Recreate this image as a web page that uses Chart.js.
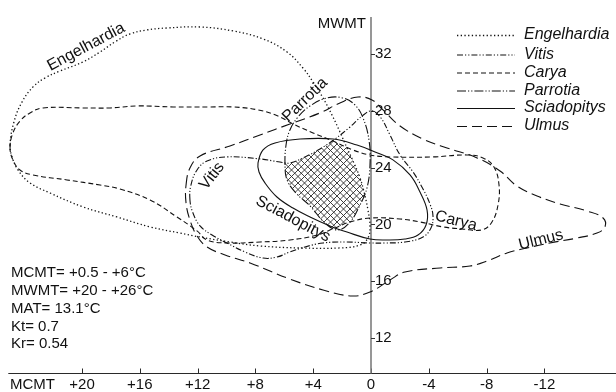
<!DOCTYPE html>
<html>
<head>
<meta charset="utf-8">
<script src="https://cdn.jsdelivr.net/npm/chart.js@4.4.0/dist/chart.umd.min.js"></script>
<style>
  html, body { margin: 0; padding: 0; background: #fff; }
  #wrap { width: 616px; height: 392px; }
</style>
</head>
<body>
<div id="wrap"><canvas id="chart" width="616" height="392"></canvas></div>
<script>
// climate envelopes, each point is [MCMT, MWMT] in deg C
const engelhardia = [
  [24.98, 25.59], [24.71, 27.21], [24.15, 28.62], [23.39, 29.68], [22.56, 30.31], [21.52, 30.80],
  [19.93, 31.44], [18.75, 32.14], [17.72, 32.85], [16.68, 33.41], [15.50, 33.69], [14.12, 33.83],
  [11.83, 33.90], [9.55, 33.62], [7.47, 33.06], [5.81, 32.14], [4.71, 31.01], [4.01, 30.03],
  [3.32, 28.90], [2.70, 27.70], [2.15, 26.51], [1.66, 25.38], [1.18, 24.32], [0.76, 23.27],
  [0.48, 22.28], [0.21, 21.01], [0.07, 19.89], [0.21, 19.04], [0.76, 18.55], [2.15, 18.34],
  [4.91, 18.34], [7.68, 18.48], [9.76, 18.76], [11.83, 19.11], [13.22, 19.39], [15.29, 19.82],
  [17.58, 20.52], [19.93, 21.23], [22.21, 22.21], [23.60, 22.92], [24.43, 23.83], [24.84, 24.75]
];
const vitis = [
  [12.53, 21.72], [12.46, 22.77], [12.04, 23.83], [11.35, 24.46], [9.97, 24.75], [7.68, 24.61],
  [6.30, 24.39], [5.61, 24.32], [4.57, 24.75], [3.53, 25.31], [2.49, 26.01], [1.45, 26.86],
  [0.62, 27.63], [-0.07, 27.99], [-0.69, 27.49], [-1.31, 26.30], [-2.01, 24.89], [-2.91, 23.69],
  [-3.60, 22.49], [-4.08, 21.44], [-4.29, 20.59], [-4.15, 19.75], [-3.60, 19.11], [-2.35, 18.76],
  [-0.97, 18.69], [0.07, 18.69], [1.80, 18.76], [3.32, 18.69], [4.57, 18.41], [5.61, 18.06],
  [6.51, 17.70], [7.47, 17.63], [8.72, 18.06], [9.97, 18.69], [11.00, 19.25], [11.83, 19.89],
  [12.32, 20.80]
];
const carya = [
  [24.98, 25.38], [24.78, 26.44], [24.29, 27.28], [23.60, 27.85], [22.70, 28.20], [19.93, 28.20],
  [18.06, 28.20], [16.19, 28.34], [13.70, 28.27], [11.14, 28.27], [9.55, 28.27], [7.82, 28.06],
  [6.44, 27.63], [5.40, 27.07], [4.01, 26.44], [2.63, 25.87], [1.25, 25.24], [0.07, 24.89],
  [-1.31, 24.75], [-4.29, 24.75], [-6.64, 24.89], [-7.75, 24.68], [-8.51, 24.04], [-8.86, 22.77],
  [-8.79, 21.37], [-8.37, 20.17], [-7.68, 19.61], [-6.30, 19.68], [-4.98, 19.82], [-3.39, 20.17],
  [-2.01, 20.38], [0.07, 20.45], [1.45, 20.17], [2.49, 19.75], [3.74, 19.25], [5.61, 18.90],
  [7.68, 18.76], [9.97, 18.69], [11.35, 18.90], [12.04, 19.54], [13.43, 20.52], [15.29, 21.72],
  [17.37, 22.49], [18.75, 22.77], [21.04, 23.13], [23.39, 23.48], [24.29, 23.83], [24.78, 24.54]
];
const parrotia = [
  [5.95, 24.18], [5.88, 25.59], [5.61, 26.65], [5.05, 27.56], [4.22, 28.34], [3.05, 28.90],
  [1.94, 28.90], [1.11, 28.41], [0.55, 27.49], [0.14, 25.94], [0.07, 24.18], [0.28, 22.56],
  [0.76, 21.37], [1.45, 20.17], [2.28, 19.61], [3.18, 20.10], [4.22, 21.30], [5.19, 22.21],
  [5.81, 23.13]
];
const sciadopitys = [
  [7.82, 24.32], [7.47, 25.24], [6.64, 25.73], [4.91, 26.01], [2.63, 26.01], [0.97, 25.59],
  [-0.28, 25.10], [-1.52, 24.54], [-2.70, 23.48], [-3.39, 22.28], [-3.88, 21.01], [-3.81, 19.96],
  [-3.25, 19.25], [-2.35, 18.97], [-1.11, 18.90], [0.07, 18.97], [1.66, 19.46], [2.84, 19.89],
  [4.22, 20.52], [5.40, 21.15], [6.51, 21.93], [7.34, 22.92], [7.75, 23.69]
];
const ulmus = [
  [12.80, 22.77], [12.53, 23.97], [11.83, 24.82], [9.76, 25.52], [7.68, 26.30], [5.61, 27.07],
  [3.53, 27.85], [2.15, 28.55], [0.90, 28.97], [-0.07, 28.76], [-0.83, 28.06], [-2.01, 26.93],
  [-3.60, 26.01], [-5.26, 25.38], [-7.34, 24.68], [-8.93, 23.76], [-10.10, 22.70], [-11.49, 22.00],
  [-13.08, 21.44], [-14.95, 20.94], [-16.06, 20.45], [-16.19, 19.82], [-15.64, 19.39], [-14.26, 19.04],
  [-12.39, 18.69], [-10.80, 18.34], [-9.41, 17.99], [-8.03, 17.42], [-6.85, 17.07], [-4.78, 16.93],
  [-2.35, 16.65], [-1.31, 16.08], [0.07, 15.24], [1.31, 14.96], [3.32, 15.38], [5.61, 16.15],
  [8.37, 17.28], [10.10, 17.85], [11.35, 18.41], [12.04, 19.18], [12.53, 20.31], [12.80, 21.51]
];

const taxa = ['Engelhardia', 'Vitis', 'Carya', 'Parrotia', 'Sciadopitys', 'Ulmus'];
const envelopes = [engelhardia, vitis, carya, parrotia, sciadopitys, ulmus];

const xTicks = [20, 16, 12, 8, 4, 0, -4, -8, -12];
const xTickLabels = ['+20', '+16', '+12', '+8', '+4', '0', '-4', '-8', '-12'];
const yTicks = [32, 28, 24, 20, 16, 12];
const yTickLabels = ['32', '28', '24', '20', '16', '12'];
const summary = ['MCMT= +0.5 - +6\u00B0C', 'MWMT= +20 - +26\u00B0C', 'MAT= 13.1\u00B0C', 'Kt= 0.7', 'Kr= 0.54'];

const dashes = [[1.3, 2.4], [6, 2, 1.2, 2, 1.2, 2], [5, 3], [9, 2, 1.2, 2, 1.2, 2], [], [10, 5]];
const ink = '#111';
const FONT = '"Liberation Sans", Arial, sans-serif';

// labels written along the curves (anchor in data units)
const curveLabels = [
  { text: 'Engelhardia', x: 19.72, y: 32.49, rot: -28 },
  { text: 'Vitis', x: 11.0, y: 23.41, rot: -52 },
  { text: 'Parrotia', x: 4.57, y: 28.76, rot: -44 },
  { text: 'Sciadopitys', x: 5.40, y: 20.38, rot: 28 },
  { text: 'Carya', x: -5.88, y: 20.24, rot: 14 },
  { text: 'Ulmus', x: -11.76, y: 18.90, rot: -14 }
];

const axisBottom = 9.53;  // MWMT where the MCMT axis runs
const axisTop = 34.6;
const axisLeft = 25.1;

// make every envelope a closed smooth loop (same flags the radar chart uses)
const closedLoops = {
  id: 'closedLoops',
  afterDatasetsUpdate(chart) {
    chart.data.datasets.forEach((ds, i) => {
      const line = chart.getDatasetMeta(i).dataset;
      if (!line) return;
      line._loop = true;
      line._fullLoop = true;
      line._pointsUpdated = false;
      line._path = undefined;
      line._segments = undefined;
    });
  }
};

// cross hatching on the area shared by all taxa
const hatch = {
  id: 'hatch',
  afterDatasetsDraw(chart) {
    const { ctx, chartArea: a } = chart;
    ctx.save();
    chart.data.datasets.forEach((ds, i) => {
      const line = chart.getDatasetMeta(i).dataset;
      line.updateControlPoints(a, 'x');
      ctx.beginPath();
      line.path(ctx);
      ctx.closePath();
      ctx.clip();
    });
    ctx.setLineDash([]);
    ctx.strokeStyle = '#2a2a2a';
    ctx.lineWidth = 0.9;
    ctx.beginPath();
    const h = a.bottom - a.top;
    for (let d = -h; d < a.right - a.left + h; d += 6.5) {
      ctx.moveTo(a.left + d, a.top);
      ctx.lineTo(a.left + d + h, a.bottom);
      ctx.moveTo(a.left + d, a.bottom);
      ctx.lineTo(a.left + d + h, a.top);
    }
    ctx.stroke();
    ctx.restore();
  }
};

const axes = {
  id: 'axes',
  beforeDatasetsDraw(chart) {
    const { ctx, scales: { x, y } } = chart;
    const x0 = Math.round(x.getPixelForValue(0));
    const yb = Math.round(y.getPixelForValue(axisBottom)) + 0.5;
    ctx.save();
    ctx.strokeStyle = '#2a2a2a';
    ctx.lineWidth = 1;
    ctx.beginPath();
    ctx.moveTo(x.getPixelForValue(axisLeft), yb);
    ctx.lineTo(chart.width, yb);
    xTicks.forEach(v => {
      const px = Math.round(x.getPixelForValue(v)) + 0.5;
      ctx.moveTo(px, yb);
      ctx.lineTo(px, yb - 5);
    });
    ctx.stroke();

    ctx.strokeStyle = '#7d7d7d';
    ctx.lineWidth = 1.6;
    ctx.beginPath();
    ctx.moveTo(x0, y.getPixelForValue(axisTop));
    ctx.lineTo(x0, yb);
    ctx.stroke();

    ctx.strokeStyle = '#333';
    ctx.lineWidth = 1;
    ctx.beginPath();
    yTicks.forEach(v => {
      const py = Math.round(y.getPixelForValue(v)) + 0.5;
      ctx.moveTo(x0, py);
      ctx.lineTo(x0 + 4, py);
    });
    ctx.stroke();
    ctx.restore();
  },
  afterDraw(chart) {
    const { ctx, scales: { x, y } } = chart;
    const x0 = x.getPixelForValue(0);
    const yb = y.getPixelForValue(axisBottom);
    ctx.save();
    ctx.fillStyle = ink;
    ctx.font = '15px ' + FONT;
    ctx.textBaseline = 'middle';

    ctx.textAlign = 'center';
    xTicks.forEach((v, i) => ctx.fillText(xTickLabels[i], x.getPixelForValue(v), yb + 12));
    ctx.textAlign = 'left';
    ctx.fillText('MCMT', 10, yb + 12);
    yTicks.forEach((v, i) => ctx.fillText(yTickLabels[i], x0 + 4, y.getPixelForValue(v)));
    ctx.textAlign = 'right';
    ctx.fillText('MWMT', x0 - 5, 24);

    ctx.textAlign = 'left';
    summary.forEach((s, i) => ctx.fillText(s, 11, 273 + i * 17.8));

    // curve names
    ctx.font = '16px ' + FONT;
    ctx.textAlign = 'center';
    curveLabels.forEach(l => {
      ctx.save();
      ctx.translate(x.getPixelForValue(l.x), y.getPixelForValue(l.y));
      ctx.rotate(l.rot * Math.PI / 180);
      ctx.fillText(l.text, 0, 0);
      ctx.restore();
    });

    // legend
    ctx.font = 'italic 16px ' + FONT;
    ctx.textAlign = 'left';
    const rows = [35, 54.5, 72.5, 90.5, 108, 126];
    chart.data.datasets.forEach((ds, i) => {
      ctx.strokeStyle = ink;
      ctx.lineWidth = ds.borderWidth;
      ctx.setLineDash(ds.borderDash);
      ctx.beginPath();
      ctx.moveTo(457, rows[i] + 0.5);
      ctx.lineTo(515, rows[i] + 0.5);
      ctx.stroke();
      ctx.fillText(ds.label, 524, rows[i]);
    });
    ctx.restore();
  }
};

new Chart(document.getElementById('chart'), {
  type: 'line',
  data: {
    datasets: envelopes.map((pts, i) => ({
      label: taxa[i],
      data: pts.map(p => ({ x: p[0], y: p[1] })),
      borderColor: ink,
      borderWidth: i === 0 ? 1.3 : 1.1,
      borderDash: dashes[i],
      pointRadius: 0,
      tension: 0.4,
      fill: false
    }))
  },
  options: {
    responsive: false,
    animation: false,
    events: [],
    layout: { padding: 0 },
    plugins: { legend: { display: false }, tooltip: { enabled: false } },
    scales: {
      x: { type: 'linear', reverse: true, min: -16.955, max: 25.675, display: false },
      y: { type: 'linear', min: 8.197, max: 35.80, display: false }
    }
  },
  plugins: [closedLoops, hatch, axes]
});
</script>
</body>
</html>
